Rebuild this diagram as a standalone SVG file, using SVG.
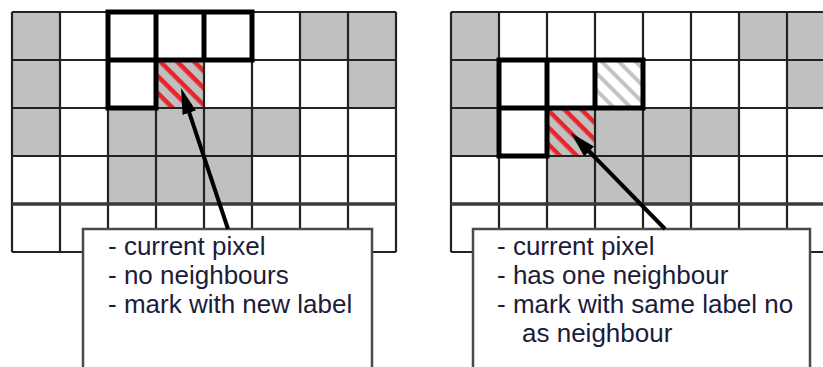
<svg xmlns="http://www.w3.org/2000/svg" width="823" height="367" viewBox="0 0 823 367">
<style>
.bg{fill:#fff}
.g{fill:#c0c0c0}
.grid{fill:none;stroke:#222;stroke-width:2.2}
.mid{fill:none;stroke:#3a3a3a;stroke-width:3.5}
.thick{fill:none;stroke:#000;stroke-width:5;stroke-linejoin:miter}
.box{fill:#fff;stroke:#4a4a4a;stroke-width:2.5}
.txt{font-family:"Liberation Sans",Arial,sans-serif;font-size:26px;fill:#1c1c3a}
.arrow{stroke:#000;stroke-width:4;fill:none}
</style>
<defs>
<pattern id="redHatch" patternUnits="userSpaceOnUse" width="12" height="12" patternTransform="rotate(45)">
<rect width="12" height="12" fill="#c0c0c0"/>
<rect width="12" height="4.5" fill="#e8252a"/>
</pattern>
<pattern id="grayHatch" patternUnits="userSpaceOnUse" width="12" height="12" patternTransform="rotate(45)">
<rect width="12" height="12" fill="#fff"/>
<rect width="12" height="4" fill="#c4c4c4"/>
</pattern>
<marker id="head" markerUnits="userSpaceOnUse" markerWidth="26" markerHeight="14" refX="10" refY="7" orient="auto">
<path d="M0,0 L26,7 L0,14 z" fill="#000"/>
</marker>
</defs>
<rect class="bg" x="0" y="0" width="823" height="367"/>

<g id="grid-left">
<rect class="g" x="12" y="12" width="48" height="48"/>
<rect class="g" x="300" y="12" width="48" height="48"/>
<rect class="g" x="348" y="12" width="48" height="48"/>
<rect class="g" x="12" y="60" width="48" height="48"/>
<rect fill="url(#redHatch)" x="156" y="60" width="48" height="48"/>
<rect class="g" x="348" y="60" width="48" height="48"/>
<rect class="g" x="12" y="108" width="48" height="48"/>
<rect class="g" x="108" y="108" width="192" height="48"/>
<rect class="g" x="108" y="156" width="144" height="48"/>
<path class="grid" d="M12,12V252M60,12V252M108,12V252M156,12V252M204,12V252M252,12V252M300,12V252M348,12V252M396,12V252M12,12H396M12,60H396M12,108H396M12,156H396M12,252H396"/>
<path class="mid" d="M12,204H396"/>
<path class="thick" d="M108,12H252V60H108ZM156,12V60M204,12V60M108,60V108H156V60"/>
</g>

<g id="grid-right">
<rect class="g" x="451" y="12" width="48" height="48"/>
<rect class="g" x="739" y="12" width="48" height="48"/>
<rect class="g" x="787" y="12" width="48" height="48"/>
<rect class="g" x="451" y="60" width="48" height="48"/>
<rect fill="url(#grayHatch)" x="595" y="60" width="48" height="48"/>
<rect class="g" x="787" y="60" width="48" height="48"/>
<rect class="g" x="451" y="108" width="48" height="48"/>
<rect fill="url(#redHatch)" x="547" y="108" width="48" height="48"/>
<rect class="g" x="595" y="108" width="144" height="48"/>
<rect class="g" x="547" y="156" width="144" height="48"/>
<path class="grid" d="M451,12V252M499,12V252M547,12V252M595,12V252M643,12V252M691,12V252M739,12V252M787,12V252M451,12H835M451,60H835M451,108H835M451,156H835M451,252H835"/>
<path class="mid" d="M451,204H835"/>
<path class="thick" d="M499,60H643V108H499ZM547,60V108M595,60V108M499,108V156H547V108"/>
</g>

<g id="callout-left">
<rect class="box" x="83" y="229" width="289" height="160"/>
<text class="txt" x="108" y="255">- current pixel</text>
<text class="txt" x="108" y="284">- no neighbours</text>
<text class="txt" x="108" y="313">- mark with new label</text>
</g>

<g id="callout-right">
<rect class="box" x="473" y="229" width="337" height="160"/>
<text class="txt" x="497" y="255">- current pixel</text>
<text class="txt" x="497" y="284">- has one neighbour</text>
<text class="txt" x="497" y="313">- mark with same label no</text>
<text class="txt" x="522" y="342">as neighbour</text>
</g>

<g id="connectors">
<line class="arrow" x1="228" y1="229" x2="186.1" y2="103.2" marker-end="url(#head)"/>
<line class="arrow" x1="665" y1="229" x2="582.2" y2="144.4" marker-end="url(#head)"/>
</g>
</svg>
